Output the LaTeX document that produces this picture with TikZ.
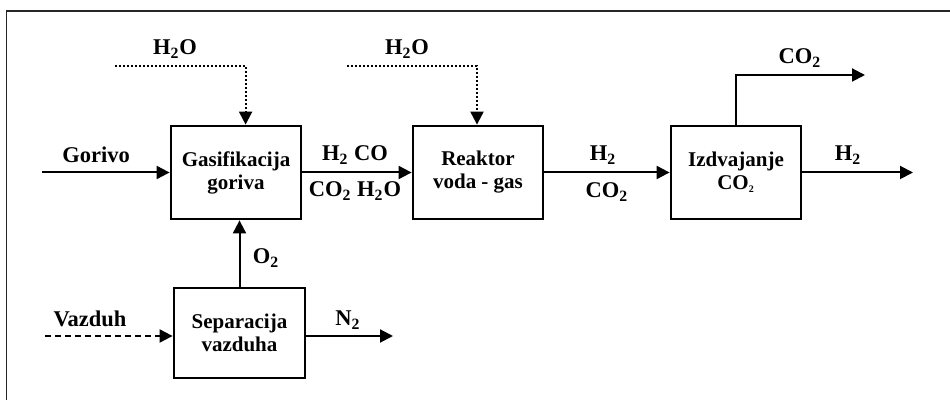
\documentclass[tikz,border=0pt]{standalone}
\usepackage{fontspec}
\setmainfont{Liberation Serif}
\usetikzlibrary{arrows.meta,positioning}

\begin{document}
\begin{tikzpicture}[x=0.5pt, y=-0.5pt,
    unit/.style={draw, line width=1.4pt, minimum width=65pt, minimum height=46.5pt, inner sep=0pt, align=center, font=\bfseries\fontsize{10.5}{11.5}\selectfont},
    lbl/.style={inner sep=0pt, font=\bfseries\fontsize{11.25}{13}\selectfont},
    flow/.style={line width=1pt, -{Triangle[length=6.5pt,width=6.5pt]}},
    feed/.style={flow, densely dotted},
    airline/.style={flow, dash pattern=on 3pt off 2pt},
    frame/.style={line width=0.8pt, black!85}
]
\useasboundingbox (0,0) rectangle (950,400);
\draw[frame] (6.5,400) -- (6.5,11) -- (950,11);

% process units
\node[unit] (gas) at (236,172.5) {Gasifikacija\\goriva};
\node[unit] (reak) at (478,172.5) {Reaktor\\voda - gas};
\node[unit] (izd) at (736,172.5) {Izdvajanje\\CO\textsubscript{\fontsize{5}{5}\selectfont 2}};
\node[unit, minimum width=65.5pt, minimum height=45pt] (sep) at (239.5,333) {Separacija\\vazduha};

% free ends of streams
\coordinate (gor) at (42,172.5);
\coordinate (w1) at (115,66);
\coordinate (w2) at (347,66);
\coordinate (co2out) at (865,75);
\coordinate (h2out) at (913,172.5);
\coordinate (vaz) at (45,336);
\coordinate (n2out) at (393,336);

% stream labels
\node[lbl] (lgor) at (96,155) {Gorivo};
\node[lbl] (lw1) at (175,49) {H\textsubscript{2}O};
\node[lbl] (lw2) at (407,49) {H\textsubscript{2}O};
\node[lbl] (lsyn1) at (355,155) {H\textsubscript{2} CO};
\node[lbl] (lsyn2) at (355,191) {CO\textsubscript{2} H\textsubscript{2}O};
\node[lbl] (lsh1) at (603,155) {H\textsubscript{2}};
\node[lbl] (lsh2) at (607,192) {CO\textsubscript{2}};
\node[lbl] (lco2) at (800,58) {CO\textsubscript{2}};
\node[lbl] (lh2) at (848,155) {H\textsubscript{2}};
\node[lbl] (lo2) at (266,258) {O\textsubscript{2}};
\node[lbl] (lvaz) at (90,319) {Vazduh};
\node[lbl] (ln2) at (348,320) {N\textsubscript{2}};

% streams
\draw[flow] (gor) -- (gas.west);
\draw[feed] (w1) -| ([xshift=4.8pt]gas.north);
\draw[feed] (w2) -| ([xshift=-0.5pt]reak.north);
\draw[flow] (gas.east) -- (reak.west);
\draw[flow] (reak.east) -- (izd.west);
\draw[flow] (izd.north) |- (co2out);
\draw[flow] (izd.east) -- (h2out);
\draw[flow] (sep.north) -- (sep.north |- gas.south);
\draw[airline] (vaz) -- (vaz -| sep.west);
\draw[flow] (sep.east |- n2out) -- (n2out);
\end{tikzpicture}
\end{document}
